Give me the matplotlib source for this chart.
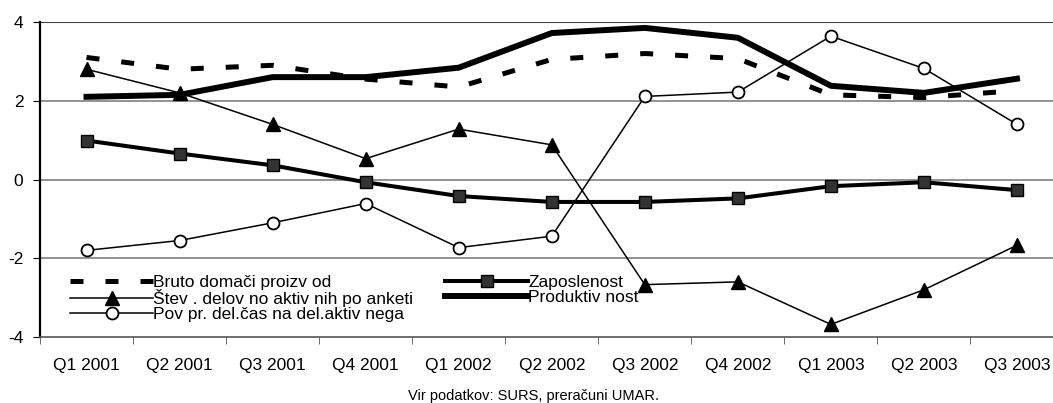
import numpy as np
import matplotlib.pyplot as plt

plt.rcParams["font.family"] = ["Liberation Sans", "DejaVu Sans"]
plt.rcParams["axes.unicode_minus"] = False

quarters = ["Q1 2001", "Q2 2001", "Q3 2001", "Q4 2001", "Q1 2002", "Q2 2002",
            "Q3 2002", "Q4 2002", "Q1 2003", "Q2 2003", "Q3 2003"]

bdp = [3.1, 2.8, 2.9, 2.55, 2.35, 3.05, 3.2, 3.07, 2.15, 2.08, 2.26]
zaposlenost = [0.99, 0.66, 0.36, -0.07, -0.42, -0.57, -0.57, -0.48, -0.17, -0.07, -0.27]
stev_aktivnih = [2.8, 2.2, 1.4, 0.53, 1.28, 0.88, -2.67, -2.6, -3.68, -2.8, -1.67]
produktivnost = [2.1, 2.15, 2.6, 2.6, 2.84, 3.72, 3.85, 3.6, 2.38, 2.2, 2.56]
povpr_cas = [-1.8, -1.55, -1.1, -0.61, -1.73, -1.44, 2.11, 2.22, 3.64, 2.82, 1.4]

labels = ["Bruto domači proizv od", "Zaposlenost", "Štev . delov no aktiv nih po anketi",
          "Produktiv nost", "Pov pr. del.čas na del.aktiv nega"]

W, H = 1053, 403
fig = plt.figure(figsize=(W / 100, H / 100), dpi=100)
ax = fig.add_axes([40 / W, 1 - 337 / H, 1023.5 / W, 315 / H])

x = np.arange(len(quarters))

l_bdp, = ax.plot(x, bdp, color="black", lw=3.6, ls=(0, (2.6, 4.4)), zorder=3)
l_zap, = ax.plot(x, zaposlenost, color="black", lw=2.9, marker="s", ms=8.6,
                 mfc="#333333", mec="black", mew=1.0, zorder=4)
l_stev, = ax.plot(x, stev_aktivnih, color="black", lw=1.1, marker="^", ms=9.5,
                  mfc="black", mec="black", zorder=4)
l_prod, = ax.plot(x, produktivnost, color="black", lw=4.3, zorder=3)
l_cas, = ax.plot(x, povpr_cas, color="black", lw=1.1, marker="o", ms=8.6,
                 mfc="white", mec="black", mew=1.3, zorder=4)

ax.set_xlim(-0.5, 10.5)
ax.set_ylim(-4, 4)
ax.set_yticks([-4, -2, 0, 2, 4])
ax.set_yticklabels(["-4", "-2", "0", "2", "4"], fontsize=12.5)
ax.set_xticks(x)
ax.set_xticklabels(quarters, fontsize=12.5)
ax.tick_params(axis="x", length=0, pad=15)
ax.set_xticks(np.arange(-0.5, 10.6, 1), minor=True)
ax.tick_params(axis="x", which="minor", length=5, direction="out", color="#555555")
ax.tick_params(axis="y", length=5, direction="out", color="black", pad=7)

for v in [-2, 0, 2]:
    ax.axhline(v, color="#808080", lw=1.2, zorder=1)
ax.axhline(4, color="#404040", lw=1.5, zorder=1)

for s in ["top", "right"]:
    ax.spines[s].set_visible(False)
ax.spines["left"].set_linewidth(1.6)
ax.spines["bottom"].set_color("#555555")
ax.spines["bottom"].set_linewidth(1.2)

leg_kw = dict(loc="upper left", frameon=False, fontsize=12.5, handlelength=4.8,
              handletextpad=0.0, labelspacing=-0.02, borderpad=0.0, borderaxespad=0.0)
leg1 = ax.legend([l_bdp, l_stev, l_cas], [labels[0], labels[2], labels[4]],
                 bbox_to_anchor=((70 - 40) / 1023.5, 0.198), **leg_kw)
ax.add_artist(leg1)
ax.legend([l_zap, l_prod], [labels[1], labels[3]],
          bbox_to_anchor=((445 - 40) / 1023.5, 0.198), **leg_kw)

fig.text(533 / W, 1 - 396 / H, "Vir podatkov: SURS, preračuni UMAR.",
         ha="center", va="center", fontsize=10.5)

fig.savefig("out.png", dpi=100)
